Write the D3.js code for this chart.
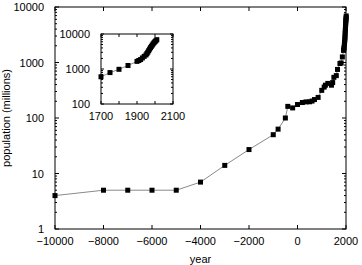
<!DOCTYPE html>
<html>
<head>
<meta charset="utf-8">
<script src="https://cdn.jsdelivr.net/npm/d3@7"></script>
<style>
  body { margin: 0; background: #fff; }
  svg text { font-family: "Liberation Sans", Arial, sans-serif; font-size: 11px; fill: #000; }
</style>
</head>
<body>
<svg id="chart" width="362" height="265"></svg>
<script>
// world population estimates (millions)
var years = [-10000, -8000, -7000, -6000, -5000, -4000, -3000, -2000, -1000, -800, -500, -400, -200, 1,
  200, 350, 500, 600, 700, 850, 1000, 1100, 1150, 1250, 1400, 1450, 1500, 1600, 1650, 1750, 1800, 1850,
  1900, 1910, 1920, 1930, 1940, 1950, 1955, 1960, 1965, 1970, 1975, 1980, 1985, 1990, 1995, 2000, 2005, 2010];
var population = [4, 5, 5, 5, 5, 7, 14, 27, 50, 63, 100, 162, 152, 175,
  190, 195, 196, 202, 215, 235, 315, 360, 390, 420, 390, 435, 540, 580, 750, 960, 980, 1260,
  1650, 1750, 1860, 2070, 2300, 2520, 2760, 3020, 3340, 3700, 4070, 4440, 4830, 5260, 5670, 6070, 6450, 6900];

var insetYears = [1700, 1750, 1800, 1850, 1900, 1910, 1920, 1930, 1940, 1950, 1955, 1960, 1965,
  1970, 1975, 1980, 1985, 1990, 1995, 2000, 2005, 2010];
var insetPopulation = [600, 790, 980, 1260, 1650, 1750, 1860, 2070, 2300, 2520, 2760, 3020, 3340,
  3700, 4070, 4440, 4830, 5260, 5670, 6070, 6450, 6900];

var xTicks = [-10000, -8000, -6000, -4000, -2000, 0, 2000];
var yTicks = [1, 10, 100, 1000, 10000];
var insetXTicks = [1700, 1800, 1900, 2000, 2100];
var insetXLabels = [1700, 1900, 2100];
var insetYTicks = [100, 1000, 10000];

var svg = d3.select("#chart");

function minorTicks(lo, hi) {
  var out = [];
  for (var d = lo; d < hi; d *= 10) {
    for (var k = 2; k <= 9; k++) out.push(d * k);
  }
  return out;
}

function fmt(v) { return v < 0 ? "\u2212" + Math.abs(v) : "" + v; }

function drawPanel(g, x, y, xt, xl, yt, xs, ys, size, major, minor) {
  var x0 = x.range()[0], x1 = x.range()[1];
  var y0 = y.range()[0], y1 = y.range()[1];

  g.append("rect")
    .attr("x", x0).attr("y", y1)
    .attr("width", x1 - x0).attr("height", y0 - y1)
    .attr("fill", "#fff").attr("stroke", "#000").attr("stroke-width", 1);

  // x ticks, bottom and top, pointing inward
  xt.forEach(function(t) {
    g.append("line").attr("x1", x(t)).attr("x2", x(t)).attr("y1", y0).attr("y2", y0 - major)
      .attr("stroke", "#000");
    g.append("line").attr("x1", x(t)).attr("x2", x(t)).attr("y1", y1).attr("y2", y1 + major)
      .attr("stroke", "#000");
  });
  // y ticks, left and right
  var dom = y.domain();
  var all = yt.map(function(t) { return { v: t, len: major }; })
    .concat(minorTicks(dom[0], dom[1]).map(function(t) { return { v: t, len: minor }; }));
  all.forEach(function(t) {
    g.append("line").attr("x1", x0).attr("x2", x0 + t.len).attr("y1", y(t.v)).attr("y2", y(t.v))
      .attr("stroke", "#000");
    g.append("line").attr("x1", x1).attr("x2", x1 - t.len).attr("y1", y(t.v)).attr("y2", y(t.v))
      .attr("stroke", "#000");
  });

  g.selectAll(".xl").data(xl).join("text")
    .attr("x", d => x(d)).attr("y", y0 + 16)
    .attr("text-anchor", "middle")
    .text(fmt);
  g.selectAll(".yl").data(yt).join("text")
    .attr("x", x0 - 11).attr("y", d => y(d) + 4)
    .attr("text-anchor", "end")
    .text(fmt);

  var line = d3.line().x(d => x(d[0])).y(d => y(d[1]));
  var pts = d3.zip(xs, ys);
  g.append("path").attr("d", line(pts))
    .attr("fill", "none").attr("stroke", "#8a8a8a").attr("stroke-width", 1);
  g.selectAll(".pt").data(pts).join("rect")
    .attr("x", d => x(d[0]) - size / 2).attr("y", d => y(d[1]) - size / 2)
    .attr("width", size).attr("height", size)
    .attr("fill", "#000");
}

// main chart
var x = d3.scaleLinear().domain([-10000, 2000]).range([55, 346]);
var y = d3.scaleLog().domain([1, 10000]).range([229, 7]);
drawPanel(svg.append("g"), x, y, xTicks, xTicks, yTicks, years, population, 5, 4, 2);

svg.append("text").attr("x", (55 + 346) / 2).attr("y", 263)
  .attr("text-anchor", "middle").text("year");
svg.append("text")
  .attr("transform", "translate(10," + (7 + 229) / 2 + ") rotate(-90)")
  .attr("text-anchor", "middle").text("population (millions)");

// inset
var xi = d3.scaleLinear().domain([1700, 2100]).range([101, 173]);
var yi = d3.scaleLog().domain([100, 10000]).range([104, 34]);
drawPanel(svg.append("g"), xi, yi, insetXTicks, insetXLabels, insetYTicks, insetYears, insetPopulation, 5, 3, 2);
</script>
</body>
</html>
